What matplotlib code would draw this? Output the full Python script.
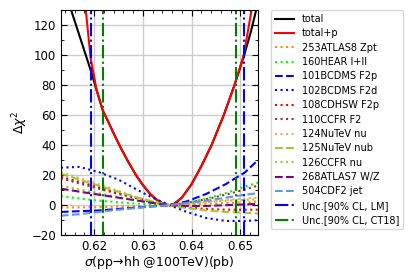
import matplotlib
matplotlib.use('Agg')
import matplotlib.pyplot as plt
from matplotlib.ticker import AutoMinorLocator

# x grid for the total curves and values
x_tot = [0.6150, 0.6170, 0.6175, 0.6183, 0.6193, 0.6205, 0.6218, 0.6230, 0.6240,
         0.6255, 0.6270, 0.6286, 0.6300, 0.6315, 0.6330, 0.6345, 0.6355, 0.6365,
         0.6380, 0.6400, 0.6420, 0.6441, 0.6466, 0.6488, 0.6507, 0.6522, 0.6531, 0.6540]
total = [133, 113, 108, 100, 90, 77, 63, 55, 48,
         38, 29, 20, 13.5, 7.5, 3.2, 0.6, 0, 1,
         5, 14, 26, 40, 60, 80, 99, 116, 128, 140]
total_p = [280, 200, 165, 130, 98, 77, 63, 55, 48,
           38, 29, 20, 13.5, 7.5, 3.2, 0.6, 0, 1,
           5, 14, 26, 40, 60, 80, 100, 128, 150, 180]

# x grid for the individual experiments
x_exp = [0.6132, 0.6170, 0.6210, 0.6250, 0.6290, 0.6320, 0.6355, 0.6390, 0.6430, 0.6470, 0.6510, 0.6536]
exp_253 = [-1.5, -1.5, -1.3, -1.0, -0.6, -0.3, 0, 0.5, 1.0, 1.5, 2.0, 2.5]
exp_160 = [6, 4.5, 3, 2, 1, 0.5, 0, 1.5, 4.5, 8, 12.5, 15]
exp_101 = [-4.5, -4, -3.5, -2.5, -1.5, -0.8, 0, 2.5, 7.5, 14, 22, 30]
exp_102 = [25, 25.5, 22, 17, 10, 5, 0, -4.5, -8.5, -10.5, -10.5, -10]
exp_108 = [19, 15.5, 12, 8, 4.5, 2, 0, -1.5, -2.5, -3, -3, -3]
exp_110 = [18, 14.5, 11, 7.5, 4.5, 2, 0, 1.5, 4, 7, 10.5, 13]
exp_124 = [22, 18, 14, 9.5, 5, 2.5, 0, 1, 2.5, 3.5, 4.5, 5]
exp_125 = [21, 17, 13, 9, 5, 2.5, 0, -2, -3.5, -4.5, -5, -5.5]
exp_126 = [13, 10.5, 8, 5.5, 3, 1.5, 0, 1, 2, 3, 3.5, 4]
exp_268 = [11, 9, 7, 5, 3, 1.5, 0, -0.5, -0.5, 0, 0.5, 1]
exp_504 = [-7, -6, -4.5, -3, -1.8, -0.8, 0, 1.5, 3, 5, 7, 8]

# 90% CL uncertainty bounds
unc_lm = [0.6193, 0.6507]
unc_ct18 = [0.6218, 0.6492]

fig = plt.figure(figsize=(4.2, 2.8), dpi=100)
ax = fig.add_axes([0.145, 0.16, 0.469, 0.804])

ax.plot(x_tot, total, color='black', lw=1.5, label='total')
ax.plot(x_tot, total_p, color='red', lw=1.5, label='total+p')

ax.plot(x_exp, exp_253, color='darkorange', ls=':', lw=1.5, label='253ATLAS8 Zpt')
ax.plot(x_exp, exp_160, color='lime', ls=':', lw=1.5, label='160HEAR I+II')
ax.plot(x_exp, exp_101, color='blue', ls='--', lw=1.5, label='101BCDMS F2p')
ax.plot(x_exp, exp_102, color='blue', ls=':', lw=1.5, label='102BCDMS F2d')
ax.plot(x_exp, exp_108, color='red', ls=':', lw=1.5, label='108CDHSW F2p')
ax.plot(x_exp, exp_110, color='brown', ls=':', lw=1.5, label='110CCFR F2')
ax.plot(x_exp, exp_124, color='sandybrown', ls=':', lw=1.5, label='124NuTeV nu')
ax.plot(x_exp, exp_125, color='yellowgreen', ls='--', lw=1.5, label='125NuTeV nub')
ax.plot(x_exp, exp_126, color='yellowgreen', ls=':', lw=1.5, label='126CCFR nu')
ax.plot(x_exp, exp_268, color='purple', ls='--', lw=1.5, label='268ATLAS7 W/Z')
ax.plot(x_exp, exp_504, color='cornflowerblue', ls='--', lw=1.5, label='504CDF2 jet')

for i, v in enumerate(unc_lm):
    ax.axvline(v, color='blue', ls='-.', lw=1.5, label='Unc.[90% CL, LM]' if i == 0 else None)
for i, v in enumerate(unc_ct18):
    ax.axvline(v, color='green', ls='-.', lw=1.5, label='Unc.[90% CL, CT18]' if i == 0 else None)

ax.set_xlim(0.6132, 0.6536)
ax.set_ylim(-20, 130)
ax.set_xticks([0.62, 0.63, 0.64, 0.65])
ax.set_yticks(range(-20, 121, 20))
ax.xaxis.set_minor_locator(AutoMinorLocator(5))
ax.yaxis.set_minor_locator(AutoMinorLocator(2))
ax.tick_params(which='both', direction='in', top=True, right=True, labelsize=8.5)
ax.tick_params(which='major', length=4)
ax.tick_params(which='minor', length=2)
ax.grid(True, which='major', color='#cccccc', lw=1)
ax.set_axisbelow(True)

ax.set_xlabel(r'$\sigma$(pp→hh @100TeV)(pb)', fontsize=9, labelpad=1)
ax.set_ylabel(r'$\Delta\chi^2$', fontsize=9, labelpad=1)

ax.legend(loc='upper left', bbox_to_anchor=(1.066, 1.0), fontsize=7, handlelength=2.0,
          labelspacing=0.45, borderaxespad=0)

plt.savefig('out.png', dpi=100)
plt.close()
